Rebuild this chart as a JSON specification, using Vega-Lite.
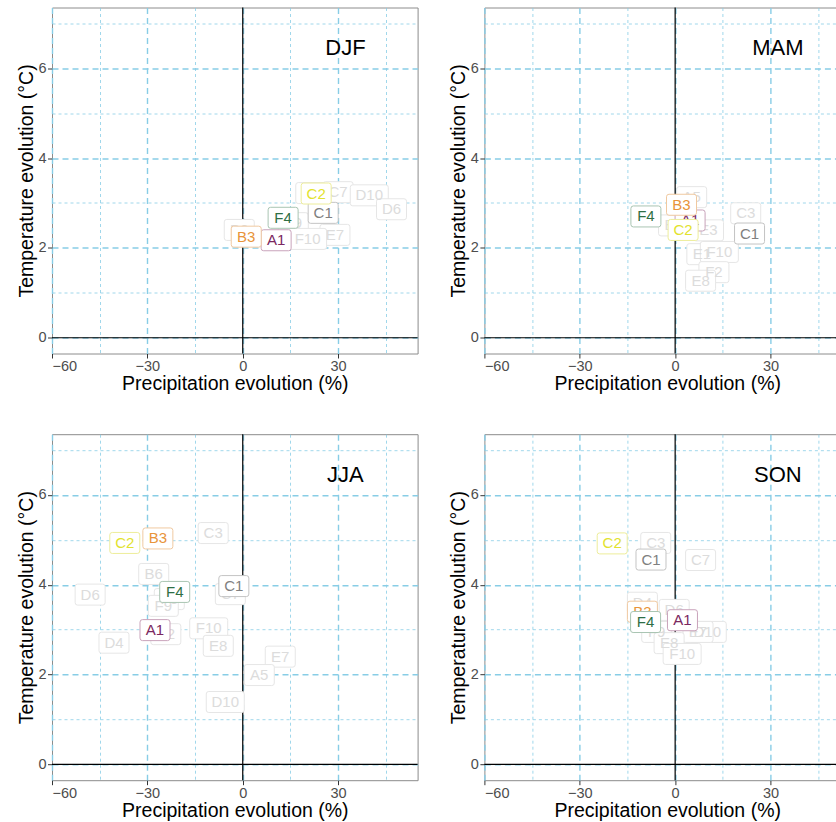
{
  "$schema": "https://vega.github.io/schema/vega-lite/v6.json",
  "padding": {"left": 15, "top": 5.5, "right": 5, "bottom": 5},
  "config": {
    "font": "Liberation Sans",
    "view": {"stroke": "#8c8c8c", "strokeWidth": 1},
    "header": {"labels": false, "title": null, "labelFontSize": 0, "labelPadding": 0, "titlePadding": 0},
    "headerFacet": {"labels": false, "title": null, "labelFontSize": 0, "labelPadding": 0},
    "axis": {
      "labelFont": "Liberation Sans", "labelFontSize": 14.5, "labelColor": "#4d4d4d",
      "titleFont": "Liberation Sans", "titleFontSize": 19.5, "titleFontWeight": "normal", "titleColor": "#000000",
      "domain": false, "tickColor": "#333333", "tickSize": 4.5, "labelPadding": 1.5, "titlePadding": 1.5,
      "gridColor": "#88cde6"
    }
  },
  "data": {"values": [
    {"season": "DJF", "model": "C7", "precip": 30.0, "temp": 3.24},
    {"season": "DJF", "model": "C3", "precip": 21.4, "temp": 3.22},
    {"season": "DJF", "model": "D10", "precip": 39.8, "temp": 3.17},
    {"season": "DJF", "model": "D6", "precip": 46.8, "temp": 2.86},
    {"season": "DJF", "model": "F9", "precip": 15.9, "temp": 2.55},
    {"season": "DJF", "model": "E7", "precip": 29.0, "temp": 2.29},
    {"season": "DJF", "model": "F10", "precip": 20.4, "temp": 2.2},
    {"season": "DJF", "model": "B6", "precip": -1.1, "temp": 2.4},
    {"season": "DJF", "model": "A1", "precip": 10.5, "temp": 2.17},
    {"season": "DJF", "model": "B3", "precip": 1.1, "temp": 2.25},
    {"season": "DJF", "model": "C1", "precip": 25.3, "temp": 2.78},
    {"season": "DJF", "model": "C2", "precip": 23.1, "temp": 3.21},
    {"season": "DJF", "model": "F4", "precip": 12.7, "temp": 2.67},
    {"season": "MAM", "model": "A5", "precip": 5.2, "temp": 3.13},
    {"season": "MAM", "model": "E3", "precip": 10.5, "temp": 2.39},
    {"season": "MAM", "model": "B6", "precip": -0.5, "temp": 2.5},
    {"season": "MAM", "model": "C3", "precip": 22.2, "temp": 2.77},
    {"season": "MAM", "model": "E1", "precip": 8.4, "temp": 1.86},
    {"season": "MAM", "model": "F10", "precip": 13.9, "temp": 1.91},
    {"season": "MAM", "model": "F2", "precip": 12.2, "temp": 1.46},
    {"season": "MAM", "model": "E8", "precip": 8.0, "temp": 1.27},
    {"season": "MAM", "model": "A1", "precip": 4.7, "temp": 2.61},
    {"season": "MAM", "model": "B3", "precip": 2.0, "temp": 2.96},
    {"season": "MAM", "model": "C1", "precip": 23.4, "temp": 2.32},
    {"season": "MAM", "model": "C2", "precip": 2.5, "temp": 2.4},
    {"season": "MAM", "model": "F4", "precip": -9.2, "temp": 2.7},
    {"season": "JJA", "model": "C3", "precip": -9.3, "temp": 5.15},
    {"season": "JJA", "model": "B6", "precip": -28.0, "temp": 4.24},
    {"season": "JJA", "model": "C7", "precip": -3.9, "temp": 3.79},
    {"season": "JJA", "model": "D6", "precip": -48.0, "temp": 3.78},
    {"season": "JJA", "model": "F3", "precip": -23.1, "temp": 3.68},
    {"season": "JJA", "model": "F9", "precip": -25.0, "temp": 3.53},
    {"season": "JJA", "model": "F10", "precip": -10.7, "temp": 3.03},
    {"season": "JJA", "model": "E2", "precip": -24.2, "temp": 2.9},
    {"season": "JJA", "model": "D4", "precip": -40.5, "temp": 2.71},
    {"season": "JJA", "model": "E8", "precip": -7.7, "temp": 2.64},
    {"season": "JJA", "model": "E7", "precip": 11.8, "temp": 2.4},
    {"season": "JJA", "model": "A5", "precip": 5.2, "temp": 1.99},
    {"season": "JJA", "model": "D10", "precip": -5.5, "temp": 1.39},
    {"season": "JJA", "model": "A1", "precip": -27.6, "temp": 2.99},
    {"season": "JJA", "model": "B3", "precip": -26.7, "temp": 5.03},
    {"season": "JJA", "model": "C1", "precip": -2.8, "temp": 3.97},
    {"season": "JJA", "model": "C2", "precip": -37.1, "temp": 4.93},
    {"season": "JJA", "model": "F4", "precip": -21.4, "temp": 3.84},
    {"season": "SON", "model": "C3", "precip": -6.1, "temp": 4.93},
    {"season": "SON", "model": "C7", "precip": 8.0, "temp": 4.55},
    {"season": "SON", "model": "D4", "precip": -10.3, "temp": 3.6},
    {"season": "SON", "model": "D6", "precip": -0.3, "temp": 3.44},
    {"season": "SON", "model": "F9", "precip": -5.8, "temp": 2.95},
    {"season": "SON", "model": "D10", "precip": 10.1, "temp": 2.95},
    {"season": "SON", "model": "E7", "precip": 7.2, "temp": 2.95},
    {"season": "SON", "model": "E8", "precip": -1.9, "temp": 2.7},
    {"season": "SON", "model": "F10", "precip": 2.2, "temp": 2.46},
    {"season": "SON", "model": "A1", "precip": 2.3, "temp": 3.21},
    {"season": "SON", "model": "B3", "precip": -10.3, "temp": 3.4},
    {"season": "SON", "model": "C1", "precip": -7.6, "temp": 4.56},
    {"season": "SON", "model": "C2", "precip": -19.8, "temp": 4.92},
    {"season": "SON", "model": "F4", "precip": -9.3, "temp": 3.17}
  ]},
  "facet": {"field": "season", "type": "nominal", "sort": ["DJF", "MAM", "JJA", "SON"], "title": null, "header": {"labels": false, "title": null, "labelFontSize": 0, "labelPadding": 0, "labelExpr": "''"}},
  "columns": 2,
  "bounds": "flush",
  "spacing": {"column": 66.4, "row": 80.7},
  "resolve": {"axis": {"x": "independent", "y": "independent"}},
  "spec": {
    "width": 365.6,
    "height": 346,
    "encoding": {
      "x": {"field": "precip", "type": "quantitative",
        "scale": {"domain": [-60, 55], "nice": false, "zero": false},
        "axis": {"title": "Precipitation evolution (%)", "values": [-60, -45, -30, -15, 0, 15, 30, 45],
          "labelExpr": "datum.value % 30 == 0 ? datum.label : ''",
          "gridDash": {"condition": {"test": "datum.value % 30 == 0", "value": [6, 4]}, "value": [3, 3]},
          "gridWidth": {"condition": {"test": "datum.value % 30 == 0", "value": 1.4}, "value": 0.8},
          "tickOpacity": {"condition": {"test": "datum.value % 30 == 0", "value": 1}, "value": 0}}},
      "y": {"field": "temp", "type": "quantitative",
        "scale": {"domain": [-0.35, 7.35], "nice": false, "zero": false},
        "axis": {"title": "Temperature evolution (°C)", "values": [0, 1, 2, 3, 4, 5, 6, 7],
          "labelExpr": "datum.value % 2 == 0 ? datum.label : ''",
          "gridDash": {"condition": {"test": "datum.value % 2 == 0", "value": [6, 4]}, "value": [3, 3]},
          "gridWidth": {"condition": {"test": "datum.value % 2 == 0", "value": 1.4}, "value": 0.8},
          "tickOpacity": {"condition": {"test": "datum.value % 2 == 0", "value": 1}, "value": 0}}}
    },
    "layer": [
      {"transform": [{"filter": "datum.model == 'A1'"}], "mark": {"type": "rule", "color": "#000000", "strokeWidth": 1.2}, "encoding": {"x": {"datum": 0}, "y": null}},
      {"transform": [{"filter": "datum.model == 'A1'"}], "mark": {"type": "rule", "color": "#000000", "strokeWidth": 1.2}, "encoding": {"y": {"datum": 0}, "x": null}},
      {"transform": [{"filter": "indexof(['A1','B3','C1','C2','F4'], datum.model) < 0"}],
        "mark": {"type": "point", "filled": true, "fill": "#ffffff", "stroke": "#e6e6e6", "strokeWidth": 1, "opacity": 1, "size": 400},
        "encoding": {"shape": {"condition": {"test": "length(datum.model) > 2", "value": "M-1.65,-1.05L1.65,-1.05Q1.9,-1.05,1.9,-0.8L1.9,0.8Q1.9,1.05,1.65,1.05L-1.65,1.05Q-1.9,1.05,-1.9,0.8L-1.9,-0.8Q-1.9,-1.05,-1.65,-1.05Z"}, "value": "M-1.25,-1.05L1.25,-1.05Q1.5,-1.05,1.5,-0.8L1.5,0.8Q1.5,1.05,1.25,1.05L-1.25,1.05Q-1.5,1.05,-1.5,0.8L-1.5,-0.8Q-1.5,-1.05,-1.25,-1.05Z"}}},
      {"transform": [{"filter": "indexof(['A1','B3','C1','C2','F4'], datum.model) < 0"}],
        "mark": {"type": "text", "fontSize": 15, "color": "#dcdcdc", "align": "center", "baseline": "middle"},
        "encoding": {"text": {"field": "model"}}},
      {"transform": [{"filter": "datum.model == 'A1'"}],
        "mark": {"type": "point", "filled": true, "fill": "#ffffff", "stroke": "#c9a3bb", "strokeWidth": 1, "opacity": 1, "size": 400, "shape": "M-1.25,-1.05L1.25,-1.05Q1.5,-1.05,1.5,-0.8L1.5,0.8Q1.5,1.05,1.25,1.05L-1.25,1.05Q-1.5,1.05,-1.5,0.8L-1.5,-0.8Q-1.5,-1.05,-1.25,-1.05Z"}},
      {"transform": [{"filter": "datum.model == 'A1'"}],
        "mark": {"type": "text", "fontSize": 15, "color": "#7b2860", "align": "center", "baseline": "middle"},
        "encoding": {"text": {"field": "model"}}},
      {"transform": [{"filter": "datum.model == 'B3'"}],
        "mark": {"type": "point", "filled": true, "fill": "#ffffff", "stroke": "#f0c9a0", "strokeWidth": 1, "opacity": 1, "size": 400, "shape": "M-1.25,-1.05L1.25,-1.05Q1.5,-1.05,1.5,-0.8L1.5,0.8Q1.5,1.05,1.25,1.05L-1.25,1.05Q-1.5,1.05,-1.5,0.8L-1.5,-0.8Q-1.5,-1.05,-1.25,-1.05Z"}},
      {"transform": [{"filter": "datum.model == 'B3'"}],
        "mark": {"type": "text", "fontSize": 15, "color": "#e8943a", "align": "center", "baseline": "middle"},
        "encoding": {"text": {"field": "model"}}},
      {"transform": [{"filter": "datum.model == 'C1'"}],
        "mark": {"type": "point", "filled": true, "fill": "#ffffff", "stroke": "#c4c4c4", "strokeWidth": 1, "opacity": 1, "size": 400, "shape": "M-1.25,-1.05L1.25,-1.05Q1.5,-1.05,1.5,-0.8L1.5,0.8Q1.5,1.05,1.25,1.05L-1.25,1.05Q-1.5,1.05,-1.5,0.8L-1.5,-0.8Q-1.5,-1.05,-1.25,-1.05Z"}},
      {"transform": [{"filter": "datum.model == 'C1'"}],
        "mark": {"type": "text", "fontSize": 15, "color": "#808080", "align": "center", "baseline": "middle"},
        "encoding": {"text": {"field": "model"}}},
      {"transform": [{"filter": "datum.model == 'C2'"}],
        "mark": {"type": "point", "filled": true, "fill": "#ffffff", "stroke": "#eded9a", "strokeWidth": 1, "opacity": 1, "size": 400, "shape": "M-1.25,-1.05L1.25,-1.05Q1.5,-1.05,1.5,-0.8L1.5,0.8Q1.5,1.05,1.25,1.05L-1.25,1.05Q-1.5,1.05,-1.5,0.8L-1.5,-0.8Q-1.5,-1.05,-1.25,-1.05Z"}},
      {"transform": [{"filter": "datum.model == 'C2'"}],
        "mark": {"type": "text", "fontSize": 15, "color": "#e2e22e", "align": "center", "baseline": "middle"},
        "encoding": {"text": {"field": "model"}}},
      {"transform": [{"filter": "datum.model == 'F4'"}],
        "mark": {"type": "point", "filled": true, "fill": "#ffffff", "stroke": "#a9c5b2", "strokeWidth": 1, "opacity": 1, "size": 400, "shape": "M-1.25,-1.05L1.25,-1.05Q1.5,-1.05,1.5,-0.8L1.5,0.8Q1.5,1.05,1.25,1.05L-1.25,1.05Q-1.5,1.05,-1.5,0.8L-1.5,-0.8Q-1.5,-1.05,-1.25,-1.05Z"}},
      {"transform": [{"filter": "datum.model == 'F4'"}],
        "mark": {"type": "text", "fontSize": 15, "color": "#2f6f45", "align": "center", "baseline": "middle"},
        "encoding": {"text": {"field": "model"}}},
      {"transform": [{"filter": "datum.model == 'A1'"}],
        "mark": {"type": "text", "fontSize": 22, "color": "#000000", "align": "center", "baseline": "middle"},
        "encoding": {"x": {"datum": 32.3}, "y": {"datum": 6.45}, "text": {"field": "season"}}}
    ]
  }
}
